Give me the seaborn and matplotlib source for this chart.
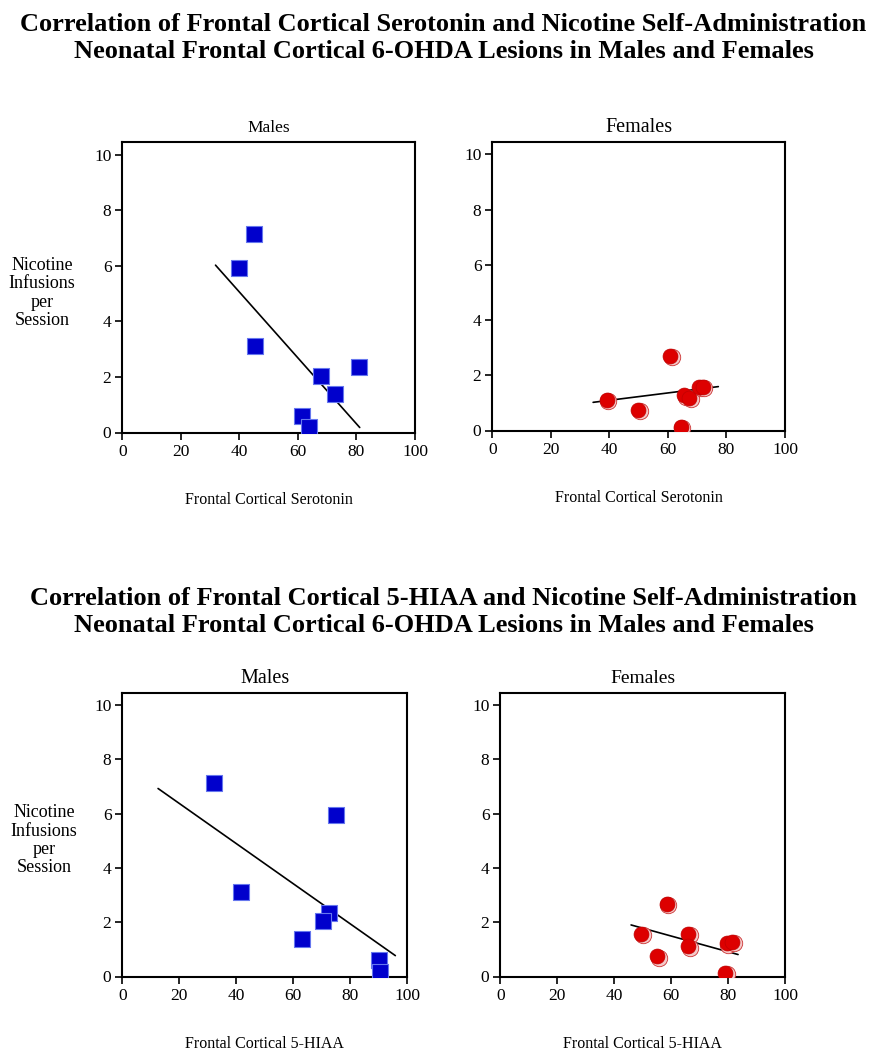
import numpy as np
import pandas as pd
import matplotlib
matplotlib.use("Agg")
import matplotlib.pyplot as plt
import seaborn as sns

# ---- data ----
# serotonin panels
ser_male_x = [45.0, 40.0, 45.4, 67.8, 80.9, 72.8, 61.3, 63.8]
ser_male_y = [7.14, 5.93, 3.11, 2.03, 2.35, 1.40, 0.61, 0.19]
ser_male_fit_x = [31.8, 81.1]
ser_male_fit_y = [6.02, 0.18]

ser_female_x = [60.7, 39.0, 49.8, 65.6, 67.2, 70.7, 71.8, 64.4]
ser_female_y = [2.71, 1.11, 0.76, 1.27, 1.18, 1.58, 1.58, 0.13]
ser_female_fit_x = [34.4, 77.2]
ser_female_fit_y = [1.02, 1.59]

# 5-HIAA panels
hiaa_male_x = [32.2, 75.2, 41.7, 72.6, 70.5, 63.1, 90.1, 90.5]
hiaa_male_y = [7.15, 5.95, 3.13, 2.34, 2.04, 1.40, 0.62, 0.18]
hiaa_male_fit_x = [12.5, 95.9]
hiaa_male_fit_y = [6.93, 0.77]

hiaa_female_x = [58.5, 49.5, 66.0, 66.0, 55.1, 79.5, 81.5, 79.0]
hiaa_female_y = [2.68, 1.57, 1.57, 1.11, 0.74, 1.22, 1.27, 0.14]
hiaa_female_fit_x = [45.9, 83.5]
hiaa_female_fit_y = [1.90, 0.81]

xticks = [0, 20, 40, 60, 80, 100]
yticks = [0, 2, 4, 6, 8, 10]

title_top = ("Correlation of Frontal Cortical Serotonin and Nicotine Self-Administration\n"
             "Neonatal Frontal Cortical 6-OHDA Lesions in Males and Females")
title_bot = ("Correlation of Frontal Cortical 5-HIAA and Nicotine Self-Administration\n"
             "Neonatal Frontal Cortical 6-OHDA Lesions in Males and Females")
ylab = "Nicotine\nInfusions\nper\nSession"

sns.set_style("white")
plt.rcParams["font.family"] = ["Liberation Serif", "DejaVu Serif"]
plt.rcParams["text.color"] = "black"
plt.rcParams["axes.labelcolor"] = "black"
plt.rcParams["axes.titlecolor"] = "black"

W, H = 887, 1053
fig = plt.figure(figsize=(W / 100, H / 100), dpi=100)


def add_ax(left, top, right, bottom):
    return fig.add_axes([left / W, 1 - bottom / H, (right - left) / W, (bottom - top) / H])


def panel(ax, x, y, fx, fy, sex, xlabel, show_ylabel, title_size):
    df = pd.DataFrame({"x": x, "y": y})
    fit = pd.DataFrame({"x": fx, "y": fy})
    sns.lineplot(data=fit, x="x", y="y", ax=ax, color="black", lw=1.2, zorder=2)
    if sex == "m":
        sns.scatterplot(data=df, x="x", y="y", ax=ax, marker="s", s=120,
                        color="#0000cc", edgecolor="#6677ee", linewidth=0.8, zorder=3)
    else:
        # pale rim offset to the lower right, then the red ball on top
        sns.scatterplot(data=df, x=np.array(x) + 0.5, y=np.array(y) - 0.05, ax=ax,
                        marker="o", s=140, color="#f4c8c8", edgecolor="#cc3333",
                        linewidth=0.6, zorder=3)
        sns.scatterplot(data=df, x="x", y="y", ax=ax, marker="o", s=115,
                        color="#dd0000", edgecolor="#c00000", linewidth=0.5, zorder=4)
    ax.set_xlim(0, 100)
    ax.set_ylim(0, 10.45)
    ax.set_xticks(xticks)
    ax.set_yticks(yticks)
    ax.tick_params(axis="both", direction="out", length=5, width=1.2, labelsize=12.5,
                   bottom=True, left=True, colors="black", pad=3)
    for s in ax.spines.values():
        s.set_color("black")
        s.set_linewidth(1.5)
    ax.set_xlabel(xlabel, fontsize=11.5, labelpad=23)
    if show_ylabel:
        ax.set_ylabel(ylab, fontsize=13, rotation=0, ha="center", va="center",
                      labelpad=0, linespacing=1.1)
        ax.yaxis.set_label_coords(-0.275, 0.48)
    else:
        ax.set_ylabel("")
    ax.set_title("Males" if sex == "m" else "Females", fontsize=title_size, pad=7)


ax1 = add_ax(122.5, 142, 415, 432.5)
ax2 = add_ax(492.5, 142, 785, 430.5)
ax3 = add_ax(122.5, 693, 407, 976.5)
ax4 = add_ax(500.5, 693, 785, 976.5)

panel(ax1, ser_male_x, ser_male_y, ser_male_fit_x, ser_male_fit_y, "m",
      "Frontal Cortical Serotonin", True, 12.5)
panel(ax2, ser_female_x, ser_female_y, ser_female_fit_x, ser_female_fit_y, "f",
      "Frontal Cortical Serotonin", False, 14.5)
panel(ax3, hiaa_male_x, hiaa_male_y, hiaa_male_fit_x, hiaa_male_fit_y, "m",
      "Frontal Cortical 5-HIAA", True, 14.5)
panel(ax4, hiaa_female_x, hiaa_female_y, hiaa_female_fit_x, hiaa_female_fit_y, "f",
      "Frontal Cortical 5-HIAA", False, 14)

fig.text(0.5, 1 - 38 / H, title_top, ha="center", va="center", fontsize=19,
         fontweight="bold", linespacing=1.18)
fig.text(0.5, 1 - 612 / H, title_bot, ha="center", va="center", fontsize=19,
         fontweight="bold", linespacing=1.18)

fig.savefig("out.png", dpi=100, facecolor="white")
